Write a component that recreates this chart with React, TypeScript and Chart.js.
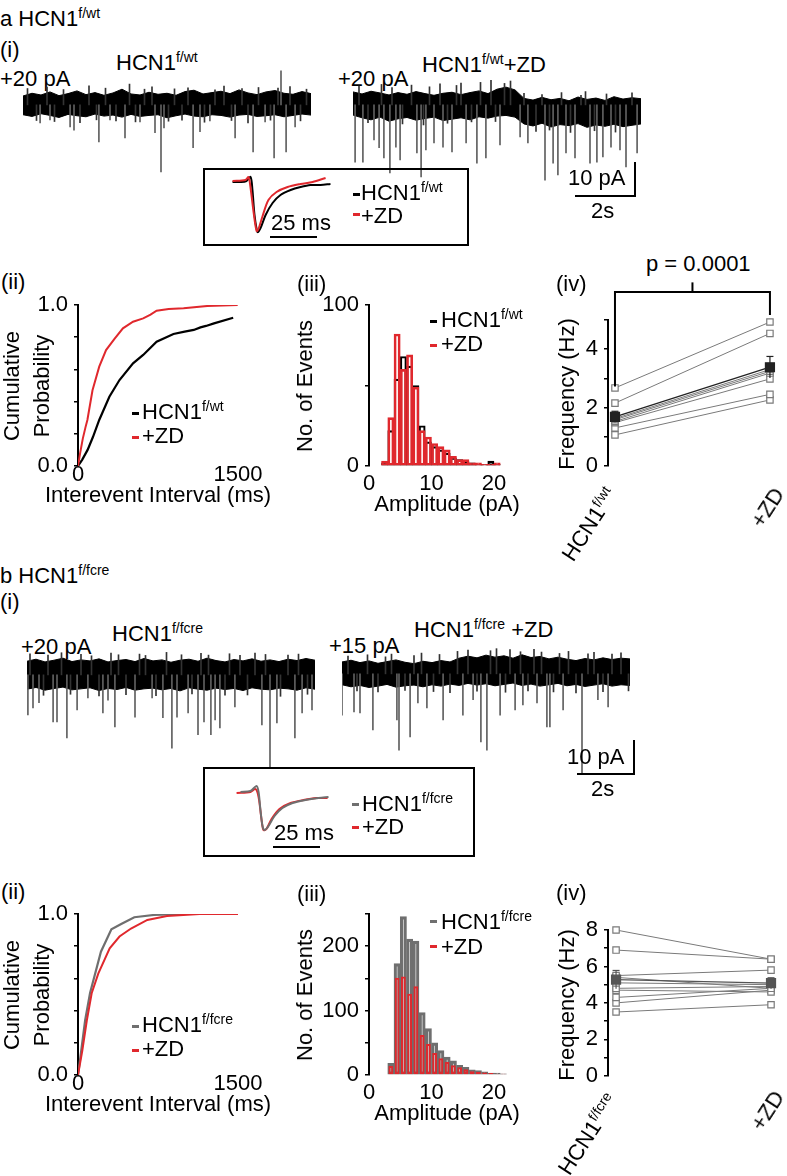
import React, { useEffect, useRef } from "react";
import { Chart, registerables } from "chart.js";
Chart.register(...registerables);

const FONT = "'Liberation Sans', Arial, Helvetica, sans-serif";
Chart.defaults.font.family = FONT;
Chart.defaults.font.size = 22;
Chart.defaults.color = "#000";

const RED = "#e0282d";
const GRAY = "#6f6f6f";
const CELL = "#7a7a7a";

// ---------------- traces (time s, current pA rel. baseline) ----------------
const ENV_T = [0, 0.3, 0.6, 0.9, 1.2, 1.5, 1.8, 2.1, 2.4, 2.7, 3.0, 3.3, 3.6, 3.9, 4.2, 4.5, 4.8, 5.1, 5.4, 5.7, 6.0, 6.3, 6.6, 6.9, 7.2, 7.5, 7.8, 8.1, 8.4, 8.7, 9.0, 9.3, 9.6];
const A1_UP = [2.6, 3.4, 2.9, 3.8, 2.7, 3.3, 4.1, 3.0, 3.6, 2.8, 3.5, 4.6, 3.2, 2.9, 3.7, 3.1, 3.4, 2.8, 3.9, 4.3, 3.2, 3.6, 4.0, 3.3, 4.4, 3.5, 3.0, 3.8, 4.2, 3.4, 3.1, 3.9, 3.3];
const A1_LO = [-2.9, -3.4, -2.6, -3.1, -3.7, -2.8, -3.2, -3.5, -2.7, -3.3, -3.0, -3.6, -2.8, -3.4, -3.1, -2.9, -3.8, -3.2, -2.7, -3.3, -3.5, -2.9, -3.1, -3.6, -3.0, -2.8, -3.4, -3.2, -2.9, -3.5, -3.1, -2.7, -3.0];
const A1_EV_T = [0.57, 0.9, 1.57, 1.7, 2.53, 2.9, 3.4, 3.9, 4.4, 4.6, 4.7, 5.67, 5.9, 6.23, 7.07, 7.67, 8.07, 8.37, 8.6, 8.77, 9.07];
const A1_EV_A = [-5.3, -4.4, -6.5, -7.4, -10.9, -4.4, -9.7, -5.0, -8.2, -19.7, -6.8, -12.6, -7.9, -4.7, -9.7, -13.8, -5.0, -15.6, 10.0, -13.8, -6.5];
const A1_NZ_T = [0.15, 0.45, 0.8, 1.05, 1.35, 1.9, 2.2, 2.45, 2.75, 3.1, 3.55, 3.75, 4.05, 4.3, 4.85, 5.05, 5.3, 5.5, 6.05, 6.4, 6.7, 6.95, 7.3, 7.5, 7.85, 8.25, 8.5, 8.9, 9.25, 9.45];
const A1_NZ_A = [4.8, -4.6, 5.2, -4.9, 4.5, -5.2, 5.6, -4.4, 4.9, -4.7, 6.1, -5.0, 4.6, 5.3, -4.8, 4.7, -4.5, 5.0, -5.1, 4.4, 5.5, -4.6, 4.8, -5.3, 5.1, -4.5, 4.9, 5.4, -4.7, 4.6];

const A2_UP = [3.8, 3.2, 4.0, 3.5, 2.9, 3.6, 3.1, 3.9, 3.3, 2.8, 3.4, 3.7, 3.0, 3.6, 4.1, 3.3, 4.6, 5.2, 4.4, 1.9, 1.4, 2.2, 1.5, 1.9, 1.2, 2.3, 1.6, 2.0, 1.3, 2.4, 1.7, 2.1, 1.8];
const A2_LO = [-3.0, -3.8, -4.4, -3.6, -4.8, -4.1, -3.7, -4.5, -4.0, -3.6, -4.6, -4.2, -3.8, -4.4, -3.5, -3.9, -3.3, -3.1, -3.6, -5.6, -6.2, -5.4, -6.5, -5.8, -6.1, -5.5, -6.6, -5.9, -6.3, -5.7, -6.4, -6.0, -5.6];
const A2_EV_T = [0.07, 0.33, 0.7, 0.87, 1.03, 1.23, 1.43, 1.57, 2.13, 2.27, 2.43, 2.7, 3.0, 3.3, 3.77, 4.13, 4.43, 4.9, 5.57, 5.83, 6.4, 6.67, 6.83, 7.1, 7.4, 7.9, 8.13, 8.33, 8.6, 8.9, 9.1, 9.47];
const A2_EV_A = [-16.8, -16.8, -10.3, -12.6, -15.6, -20.0, -12.4, -16.2, -14.1, -21.2, -13.2, -11.2, -12.4, -13.8, -11.2, -17.1, -15.6, -11.8, -9.4, -11.2, -22.1, -17.1, -20.6, -14.1, -15.6, -17.1, -16.8, -15.3, -12.4, -13.2, -18.2, -14.1];
const A2_NZ_T = [0.2, 0.5, 0.95, 1.3, 1.65, 1.95, 2.35, 2.55, 2.9, 3.15, 3.45, 3.6, 3.95, 4.25, 4.6, 4.75, 5.05, 5.25, 5.7, 6.1, 6.3, 6.55, 6.95, 7.25, 7.6, 7.75, 8.05, 8.45, 8.75, 9.3];
const A2_NZ_A = [5.5, -5.2, 6.0, 5.1, -5.6, 5.8, -5.9, 5.3, 6.2, -5.4, 5.7, 6.4, -5.0, 6.6, 7.2, -4.9, 6.3, 7.0, 3.4, -7.8, 3.0, -7.4, 3.6, -8.1, 2.8, 3.9, -7.6, 3.2, -8.0, 3.5];

const B1_UP = [4.0, 4.6, 3.8, 4.3, 4.9, 3.9, 4.4, 4.1, 4.7, 3.8, 4.2, 4.5, 3.9, 4.8, 4.1, 4.4, 3.7, 4.3, 4.6, 4.0, 4.9, 4.2, 3.8, 4.5, 4.1, 4.7, 4.0, 4.4, 3.9, 4.6, 4.2, 4.8, 4.3];
const B1_LO = [-4.2, -3.7, -4.5, -4.0, -3.6, -4.4, -4.1, -3.8, -4.6, -4.0, -4.3, -3.7, -4.5, -4.1, -3.9, -4.4, -4.0, -4.7, -3.8, -4.2, -4.5, -3.9, -4.3, -4.0, -4.6, -3.8, -4.2, -4.4, -3.9, -4.1, -4.5, -3.8, -4.2];
const B1_EV_T = [0.03, 0.2, 0.4, 0.87, 1.0, 1.33, 1.67, 2.03, 2.53, 2.7, 2.93, 3.6, 4.17, 4.53, 4.83, 5.0, 5.37, 5.7, 5.9, 6.13, 6.27, 6.43, 6.93, 7.83, 8.1, 8.33, 8.93, 9.17, 9.5];
const B1_EV_A = [-11.8, -9.7, -8.2, -13.8, -13.8, -18.5, -10.3, -6.8, -11.2, -7.4, -15.3, -12.4, -6.8, -12.6, -21.5, -12.4, -11.2, -17.6, -13.8, -17.6, -13.2, -15.6, -9.4, -14.7, -27.1, -14.1, -18.5, -11.2, -10.3];
const B1_NZ_T = [0.1, 0.55, 0.7, 1.15, 1.45, 1.8, 2.15, 2.4, 2.8, 3.05, 3.3, 3.75, 3.95, 4.3, 4.65, 5.15, 5.5, 5.8, 6.05, 6.6, 6.75, 7.1, 7.35, 7.6, 7.95, 8.45, 8.7, 9.05, 9.35];
const B1_NZ_A = [6.2, -6.0, 5.8, 6.5, -5.7, 6.0, 5.6, -6.2, 6.4, 5.9, -5.8, 6.1, 5.7, -6.1, 6.6, 5.9, -5.6, 6.3, 5.8, -6.0, 6.2, 5.7, -5.9, 6.4, 6.0, -6.3, 5.8, 6.1, -5.7];

const B2_UP = [3.5, 4.0, 3.3, 3.8, 3.1, 3.6, 4.1, 3.4, 3.0, 3.7, 3.3, 3.9, 3.5, 4.6, 5.2, 4.7, 5.5, 4.9, 5.3, 4.6, 5.6, 4.8, 5.1, 4.4, 4.9, 4.3, 3.9, 4.5, 4.1, 4.7, 4.2, 4.6, 4.4];
const B2_LO = [-3.2, -3.8, -3.4, -4.0, -3.6, -3.1, -3.9, -3.5, -3.3, -3.8, -3.2, -3.6, -3.0, -3.4, -2.8, -3.3, -2.9, -3.5, -3.1, -2.7, -3.4, -3.0, -3.6, -3.2, -2.8, -3.5, -3.1, -3.7, -3.3, -2.9, -3.6, -3.2, -3.4];
const B2_EV_T = [0.0, 0.4, 0.6, 1.03, 1.83, 1.9, 2.27, 2.53, 2.83, 3.37, 4.03, 4.37, 4.63, 4.83, 5.27, 5.77, 6.03, 6.5, 6.83, 6.93, 7.37, 8.0, 8.53, 8.87];
const B2_EV_A = [-12.1, -11.2, -11.5, -16.5, -13.5, -22.4, -18.5, -8.5, -10.0, -13.5, -12.1, -7.6, -20.0, -22.4, -12.1, -10.6, -9.1, -8.5, -15.6, -15.6, -10.6, -29.1, -7.6, -9.7];
const B2_NZ_T = [0.2, 0.5, 0.85, 1.2, 1.45, 1.65, 2.1, 2.4, 2.65, 3.05, 3.25, 3.6, 3.85, 4.2, 4.5, 4.95, 5.15, 5.45, 5.6, 5.95, 6.2, 6.4, 6.65, 7.05, 7.25, 7.55, 7.8, 8.2, 8.4, 8.7, 9.0, 9.3, 9.55];
const B2_NZ_A = [5.2, -5.0, 5.6, -5.3, 5.0, 5.8, -4.9, 5.4, 6.1, -5.2, 5.7, -5.5, 6.6, 7.0, -5.1, 6.8, 7.4, -5.4, 7.1, 6.5, -5.0, 7.2, 6.4, -5.3, 6.0, 6.6, -5.6, 5.9, 6.3, -5.2, 5.8, 6.2, -5.0];

// ---------------- average event insets (ms, a.u.) ----------------
const INA_CTRL_T = [0, 4.3, 7.4, 9.6, 10.6, 11.7, 13.3, 14.9, 17.6, 21.3, 25.5, 30.9, 36.2, 41.5, 46.8, 52.1];
const INA_CTRL_V = [0, 0, 0.2, 1.0, -1.6, -6.6, -10, -9.2, -6.6, -4.2, -2.6, -1.6, -1.0, -0.6, -0.6, -0.4];
const INA_ZD_T = [0, 6.9, 8.5, 9.6, 11.2, 12.8, 13.8, 16.0, 19.1, 23.4, 29.3, 36.2, 42.6, 49.5];
const INA_ZD_V = [0.2, 0.4, 1.0, -1.2, -6.0, -9.8, -9.4, -6.8, -3.6, -2.0, -1.0, -0.4, 0, 0.8];
const INB_CTRL_T = [0, 5.3, 8.5, 9.6, 10.6, 11.7, 12.8, 14.9, 18.1, 22.3, 27.7, 34.6, 41.5, 46.8];
const INB_CTRL_V = [0, 0.2, 1.2, 0, -3.6, -6.8, -7.6, -6.8, -4.8, -3.2, -2.2, -1.6, -1.2, -1.0];
const INB_ZD_T = [-2.1, 5.3, 8.0, 9.6, 11.2, 12.2, 13.8, 16.5, 20.7, 26.6, 33.5, 40.4, 46.3];
const INB_ZD_V = [-0.2, 0, 0.6, -1.0, -5.6, -7.6, -7.4, -5.4, -3.4, -2.2, -1.6, -1.2, -1.2];

// ---------------- cumulative probability (ms, prob) ----------------
const A_CDF_CTRL_X = [0, 40, 90, 140, 199, 294, 389, 516, 611, 737, 895, 1000, 1085, 1148, 1200, 1275, 1455];
const A_CDF_CTRL_Y = [0, 0.04, 0.1, 0.18, 0.286, 0.43, 0.534, 0.638, 0.69, 0.772, 0.82, 0.835, 0.845, 0.861, 0.87, 0.886, 0.921];
const A_CDF_ZD_X = [0, 20, 45, 70, 88, 136, 199, 263, 342, 421, 516, 611, 680, 737, 850, 990, 1212, 1497];
const A_CDF_ZD_Y = [0, 0.08, 0.17, 0.24, 0.286, 0.47, 0.617, 0.72, 0.79, 0.855, 0.896, 0.917, 0.94, 0.965, 0.975, 0.98, 0.994, 1.0];
const B_CDF_CTRL_X = [0, 30, 67, 113, 215, 313, 405, 528, 712, 1019];
const B_CDF_CTRL_Y = [0, 0.15, 0.34, 0.51, 0.766, 0.905, 0.938, 0.98, 0.994, 1.0];
const B_CDF_ZD_X = [0, 40, 83, 129, 190, 297, 389, 497, 650, 834, 1141, 1500];
const B_CDF_ZD_Y = [0, 0.15, 0.34, 0.51, 0.63, 0.787, 0.86, 0.91, 0.963, 0.988, 1.0, 1.0];

// ---------------- amplitude histograms (bin start pA, counts) ----------------
const A_BINS = [2, 3, 4, 5, 6, 7, 8, 9, 10, 11, 12, 13, 14, 15, 16, 17, 18, 19, 20];
const A_HIST_CTRL = [2, 22, 54, 68, 62, 50, 25, 15, 12, 10, 8, 5, 4, 3, 2, 1, 1, 3, 1];
const A_HIST_ZD = [3, 30, 82, 60, 69, 49, 22, 18, 14, 12, 10, 6, 4, 4, 2, 2, 1, 1, 2];
const B_BINS = [3, 4, 5, 6, 7, 8, 9, 10, 11, 12, 13, 14, 15, 16, 17, 18, 19, 20, 21];
const B_HIST_CTRL = [18, 173, 246, 211, 208, 97, 72, 50, 38, 28, 22, 15, 12, 8, 7, 5, 3, 3, 2];
const B_HIST_ZD = [14, 151, 153, 126, 138, 62, 48, 34, 26, 20, 15, 12, 9, 6, 5, 4, 3, 2, 2];

// ---------------- frequency per cell (Hz) ----------------
const IVA_CTRL = [2.67, 2.15, 1.62, 1.58, 1.52, 1.48, 1.3, 1.06];
const IVA_ZD = [4.93, 4.54, 3.3, 3.24, 3.18, 2.98, 2.45, 2.26];
const IVA_MEAN = [1.68, 3.38];
const IVA_SEM = [0.19, 0.37];
const IVA_BRACKET_Y = [2.72, 5.96, 5.96, 5.17];
const IVA_P_TICK = [5.96, 6.29];
const IVB_CTRL = [8.0, 6.9, 5.5, 5.4, 5.1, 4.8, 4.7, 4.3, 4.0, 3.5];
const IVB_ZD = [6.4, 6.4, 5.8, 4.8, 5.0, 4.9, 4.6, 4.8, 4.7, 3.9];
const IVB_MEAN = [5.28, 5.08];
const IVB_SEM = [0.5, 0.3];

// ---------------- helpers ----------------
const pts = (xs: number[], ys: number[]) => xs.map((x, i) => ({ x, y: ys[i] }));

function base(scales: any, padding: any) {
  return {
    animation: false,
    responsive: false,
    maintainAspectRatio: false,
    events: [],
    layout: { padding },
    plugins: { legend: { display: false }, tooltip: { enabled: false }, title: { display: false } },
    scales,
  };
}

function yAxis(min: number, max: number, vals: number[], labels: string[], width: number) {
  return {
    type: "linear",
    min,
    max,
    position: "left",
    afterBuildTicks: (s: any) => {
      s.ticks = vals.map((v) => ({ value: v }));
    },
    afterFit: (s: any) => {
      s.width = width;
    },
    grid: { drawOnChartArea: false, drawTicks: true, tickLength: 4, color: "#000", lineWidth: 1.5 },
    border: { display: true, color: "#000", width: 2 },
    ticks: { autoSkip: false, padding: 6, color: "#000", font: { size: 22, family: FONT }, callback: (_v: any, i: number) => labels[i] },
    title: { display: false },
  };
}

function xAxis(min: number, max: number, vals: number[], labels: string[], height: number, pad: number) {
  return {
    type: "linear",
    min,
    max,
    position: "bottom",
    afterBuildTicks: (s: any) => {
      s.ticks = vals.map((v) => ({ value: v }));
    },
    afterFit: (s: any) => {
      s.height = height;
    },
    grid: { display: false, drawTicks: false },
    border: { display: false },
    ticks: { autoSkip: false, maxRotation: 0, minRotation: 0, padding: pad, color: "#000", font: { size: 22, family: FONT }, callback: (_v: any, i: number) => labels[i] },
    title: { display: false },
  };
}

function traceCfg(up: number[], lo: number[], evT: number[], evA: number[], nzT: number[], nzA: number[]) {
  return () => ({
    type: "bar",
    data: {
      datasets: [
        { type: "line", data: pts(ENV_T, up), borderColor: "#000", borderWidth: 1, backgroundColor: "#000", fill: "+1", pointRadius: 0, tension: 0, order: 3 },
        { type: "line", data: pts(ENV_T, lo), borderColor: "#000", borderWidth: 1, fill: false, pointRadius: 0, tension: 0, order: 3 },
        { type: "bar", data: nzT.map((t, i) => ({ x: t, y: [0, nzA[i]] })), backgroundColor: "#333", barThickness: 1, grouped: false, order: 2 },
        { type: "bar", data: evT.map((t, i) => ({ x: t, y: [0, evA[i]] })), backgroundColor: "#606060", barThickness: 1, grouped: false, order: 1 },
      ],
    },
    options: base(
      {
        x: { type: "linear", min: 0, max: 10, display: false, offset: false },
        y: { type: "linear", min: -30, max: 12, display: false },
      },
      0
    ),
  });
}

function insetCfg(t1: number[], v1: number[], c1: string, t2: number[], v2: number[], c2: string, o1: number, o2: number) {
  return () => ({
    type: "line",
    data: {
      datasets: [
        { data: pts(t1, v1), borderColor: c1, borderWidth: 2, pointRadius: 0, tension: 0.3, order: o1 },
        { data: pts(t2, v2), borderColor: c2, borderWidth: 2, pointRadius: 0, tension: 0.3, order: o2 },
      ],
    },
    options: base(
      {
        x: { type: "linear", min: -4, max: 56.1, display: false },
        y: { type: "linear", min: -12, max: 2, display: false },
      },
      0
    ),
  });
}

function cdfCfg(cx: number[], cy: number[], cc: string, zx: number[], zy: number[]) {
  return () => ({
    type: "line",
    data: {
      datasets: [
        { data: pts(cx, cy), borderColor: cc, borderWidth: 2.2, pointRadius: 0, tension: 0, order: 1 },
        { data: pts(zx, zy), borderColor: RED, borderWidth: 2, pointRadius: 0, tension: 0, order: 0 },
      ],
    },
    options: base(
      {
        x: xAxis(0, 1500, [0, 1500], ["0", "1500"], 40, -4),
        y: yAxis(0, 1, [0, 0.2, 0.4, 0.6, 0.8, 1], ["0.0", "", "", "", "", "1.0"], 78),
      },
      { left: 0, top: 25, right: 42, bottom: 0 }
    ),
  });
}

function histCfg(bins: number[], ctrl: number[], cc: string, cw: number, zd: number[], zw: number, zp: number, yMax: number, yVals: number[], yLabels: string[]) {
  return () => ({
    type: "bar",
    data: {
      datasets: [
        {
          data: bins.map((b, i) => ({ x: b + 0.5, y: ctrl[i] })),
          borderColor: cc,
          borderWidth: cw,
          backgroundColor: "rgba(0,0,0,0)",
          borderSkipped: false,
          grouped: false,
          barPercentage: 1,
          categoryPercentage: 1,
          order: 1,
        },
        {
          data: bins.map((b, i) => ({ x: b + 0.5, y: zd[i] })),
          borderColor: RED,
          borderWidth: zw,
          backgroundColor: "rgba(0,0,0,0)",
          borderSkipped: false,
          grouped: false,
          barPercentage: zp,
          categoryPercentage: 1,
          order: 0,
        },
      ],
    },
    options: base(
      {
        x: { ...xAxis(0, 25, [0, 10, 20], ["0", "10", "20"], 40, 5), offset: false },
        y: yAxis(0, yMax, yVals, yLabels, 79),
      },
      { left: 0, top: 25, right: 14.75, bottom: 0 }
    ),
  });
}

function freqCfg(ctrl: number[], zd: number[], mean: number[], sem: number[], meanColor: string, yMax: number, yVals: number[], yLabels: string[], xMin: number, xMax: number, padBottom: number, padRight: number, bracket: boolean) {
  return () => {
    const ds: any[] = ctrl.map((v, i) => ({
      data: [
        { x: 0, y: v },
        { x: 1, y: zd[i] },
      ],
      borderColor: CELL,
      borderWidth: 1,
      pointStyle: "rect",
      pointRadius: 4.5,
      pointBackgroundColor: "#fff",
      pointBorderColor: CELL,
      pointBorderWidth: 1.2,
      clip: false,
      order: 3,
    }));
    ds.push({
      data: [
        { x: 0, y: mean[0] },
        { x: 1, y: mean[1] },
      ],
      borderColor: meanColor,
      borderWidth: 1.3,
      pointStyle: "rect",
      pointRadius: 6.3,
      pointBackgroundColor: meanColor,
      pointBorderColor: meanColor,
      clip: false,
      order: 0,
    });
    [0, 1].forEach((k) => {
      ds.push({
        data: [
          { x: k, y: mean[k] - sem[k] },
          { x: k, y: mean[k] + sem[k] },
        ],
        borderColor: meanColor,
        borderWidth: 1.2,
        pointStyle: "line",
        pointRadius: [0, 3.5],
        pointBorderColor: meanColor,
        pointBorderWidth: 1.2,
        clip: false,
        order: 1,
      });
    });
    if (bracket) {
      ds.push({
        data: [
          { x: 0, y: IVA_BRACKET_Y[0] },
          { x: 0, y: IVA_BRACKET_Y[1] },
          { x: 1, y: IVA_BRACKET_Y[2] },
          { x: 1, y: IVA_BRACKET_Y[3] },
        ],
        borderColor: "#000",
        borderWidth: 2,
        pointRadius: 0,
        clip: false,
        order: 0,
      });
      ds.push({
        data: [
          { x: 0.5, y: IVA_P_TICK[0] },
          { x: 0.5, y: IVA_P_TICK[1] },
        ],
        borderColor: "#000",
        borderWidth: 2,
        pointRadius: 0,
        clip: false,
        order: 0,
      });
    }
    return {
      type: "line",
      data: { datasets: ds },
      options: base(
        {
          x: { type: "linear", min: xMin, max: xMax, display: false },
          y: yAxis(0, yMax, yVals, yLabels, 68),
        },
        { left: 0, top: 80, right: padRight, bottom: padBottom }
      ),
    };
  };
}

// ---------------- components ----------------
function ChartBox({ x, y, w, h, cfg }: any) {
  const ref = useRef<HTMLCanvasElement>(null);
  useEffect(() => {
    const c = new Chart(ref.current as HTMLCanvasElement, cfg() as any);
    return () => c.destroy();
  }, []);
  return <canvas ref={ref} width={w} height={h} style={{ position: "absolute", left: x, top: y, width: w, height: h }} />;
}

function T({ x, b, s = 22, children }: any) {
  return (
    <div style={{ position: "absolute", left: x, top: b - 0.8465 * s, fontSize: s, lineHeight: `${s}px`, whiteSpace: "nowrap", color: "#000" }}>
      {children}
    </div>
  );
}

function C({ cx, cy, rot = 0, children }: any) {
  return (
    <div
      style={{
        position: "absolute",
        left: cx,
        top: cy,
        fontSize: 22,
        lineHeight: "22px",
        whiteSpace: "nowrap",
        transform: `translate(-50%,-50%) rotate(${rot}deg)`,
      }}
    >
      {children}
    </div>
  );
}

function Sup({ children }: any) {
  return <span style={{ fontSize: 14, position: "relative", top: -8 }}>{children}</span>;
}

function Dash({ x, y, c }: any) {
  return <div style={{ position: "absolute", left: x, top: y - 1.5, width: 7, height: 3.5, background: c }} />;
}

function Rect({ x, y, w, h }: any) {
  return <div style={{ position: "absolute", left: x, top: y, width: w, height: h, background: "#000" }} />;
}

function Box({ x, y, w, h }: any) {
  return <div style={{ position: "absolute", left: x, top: y, width: w, height: h, border: "2px solid #000", boxSizing: "border-box" }} />;
}

function Rot({ x, y, children }: any) {
  return (
    <div style={{ position: "absolute", left: x, top: y, width: 0, height: 0 }}>
      <div style={{ position: "absolute", right: 0, top: -13, fontSize: 22, lineHeight: "26px", whiteSpace: "nowrap", transformOrigin: "100% 50%", transform: "rotate(-57deg)" }}>
        {children}
      </div>
    </div>
  );
}

export default function App() {
  return (
    <div style={{ position: "absolute", left: 0, top: 0, width: 787, height: 1176, background: "#fff", overflow: "hidden", fontFamily: FONT, color: "#000" }}>
      {/* ===== a ===== */}
      <T x={0} b={27}>
        a HCN1<Sup>f/wt</Sup>
      </T>
      <T x={0} b={58}>(i)</T>
      <T x={116} b={71}>
        HCN1<Sup>f/wt</Sup>
      </T>
      <T x={0} b={87}>+20 pA</T>
      <T x={338} b={87}>+20 pA</T>
      <T x={422} b={73}>
        HCN1<Sup>f/wt</Sup>+ZD
      </T>
      <ChartBox x={23} y={64.2} w={300} h={143} cfg={traceCfg(A1_UP, A1_LO, A1_EV_T, A1_EV_A, A1_NZ_T, A1_NZ_A)} />
      <ChartBox x={353} y={64.2} w={300} h={143} cfg={traceCfg(A2_UP, A2_LO, A2_EV_T, A2_EV_A, A2_NZ_T, A2_NZ_A)} />
      <T x={568} b={186}>10 pA</T>
      <T x={591} b={219}>2s</T>
      <Rect x={634} y={162} w={2} h={35} />
      <Rect x={575} y={195} w={61} h={2} />

      <Box x={203} y={168} w={266} h={78} />
      <ChartBox x={224.5} y={172} w={113} h={70} cfg={insetCfg(INA_CTRL_T, INA_CTRL_V, "#000", INA_ZD_T, INA_ZD_V, RED, 1, 0)} />
      <Dash x={353} y={194} c="#000" />
      <T x={361} b={201}>
        HCN1<Sup>f/wt</Sup>
      </T>
      <Dash x={353} y={214} c={RED} />
      <T x={361} b={224}>+ZD</T>
      <T x={271} b={231}>25 ms</T>
      <Rect x={270} y={236} w={47} h={2} />

      <T x={1} b={290}>(ii)</T>
      <ChartBox x={0} y={280} w={280} h={226} cfg={cdfCfg(A_CDF_CTRL_X, A_CDF_CTRL_Y, "#000", A_CDF_ZD_X, A_CDF_ZD_Y)} />
      <C cx={12.4} cy={385.5} rot={-90}>Cumulative</C>
      <C cx={42.4} cy={385.5} rot={-90}>Probability</C>
      <C cx={158} cy={495}>Interevent Interval (ms)</C>
      <Dash x={132} y={413} c="#000" />
      <T x={142} b={420}>
        HCN1<Sup>f/wt</Sup>
      </T>
      <Dash x={132} y={437} c={RED} />
      <T x={142} b={444}>+ZD</T>

      <T x={297} b={292}>(iii)</T>
      <ChartBox x={290} y={280} w={250} h={226} cfg={histCfg(A_BINS, A_HIST_CTRL, "#000", 1.5, A_HIST_ZD, 2, 1, 100, [0, 50, 100], ["0", "", "100"])} />
      <C cx={304.5} cy={385.5} rot={-90}>No. of Events</C>
      <C cx={447} cy={504}>Amplitude (pA)</C>
      <Dash x={430} y={321} c="#000" />
      <T x={441} b={328}>
        HCN1<Sup>f/wt</Sup>
      </T>
      <Dash x={430} y={345} c={RED} />
      <T x={441} b={352}>+ZD</T>

      <T x={556} b={292}>(iv)</T>
      <T x={646} b={272}>p = 0.0001</T>
      <ChartBox
        x={540}
        y={240}
        w={247}
        h={245}
        cfg={freqCfg(IVA_CTRL, IVA_ZD, IVA_MEAN, IVA_SEM, "#222", 5, [0, 1, 2, 3, 4, 5], ["0", "", "2", "", "4", ""], -0.045, 1.052, 16.7, 9, true)}
      />
      <C cx={566.5} cy={394} rot={-90}>Frequency (Hz)</C>
      <Rot x={613} y={490}>
        HCN1<Sup>f/wt</Sup>
      </Rot>
      <Rot x={779} y={490}>+ZD</Rot>

      {/* ===== b ===== */}
      <T x={0} b={584}>
        b HCN1<Sup>f/fcre</Sup>
      </T>
      <T x={0} b={610}>(i)</T>
      <T x={112} b={642}>
        HCN1<Sup>f/fcre</Sup>
      </T>
      <T x={21} b={655}>+20 pA</T>
      <T x={329} b={654}>+15 pA</T>
      <T x={414} b={638}>
        HCN1<Sup>f/fcre</Sup> +ZD
      </T>
      <ChartBox x={27} y={634.2} w={300} h={143} cfg={traceCfg(B1_UP, B1_LO, B1_EV_T, B1_EV_A, B1_NZ_T, B1_NZ_A)} />
      <ChartBox x={342} y={633.2} w={300} h={143} cfg={traceCfg(B2_UP, B2_LO, B2_EV_T, B2_EV_A, B2_NZ_T, B2_NZ_A)} />
      <T x={567} b={765}>10 pA</T>
      <T x={591} b={797}>2s</T>
      <Rect x={633} y={740} w={2} h={35} />
      <Rect x={577} y={773} w={58} h={2} />

      <Box x={203} y={767} w={272} h={90} />
      <ChartBox x={232.5} y={782} w={113} h={70} cfg={insetCfg(INB_ZD_T, INB_ZD_V, RED, INB_CTRL_T, INB_CTRL_V, GRAY, 1, 0)} />
      <Dash x={352} y={804} c={GRAY} />
      <T x={362} b={812}>
        HCN1<Sup>f/fcre</Sup>
      </T>
      <Dash x={352} y={827} c={RED} />
      <T x={362} b={835}>+ZD</T>
      <T x={274} b={841}>25 ms</T>
      <Rect x={273} y={846} w={47} h={2} />

      <T x={1} b={900}>(ii)</T>
      <ChartBox x={0} y={889} w={280} h={226} cfg={cdfCfg(B_CDF_CTRL_X, B_CDF_CTRL_Y, GRAY, B_CDF_ZD_X, B_CDF_ZD_Y)} />
      <C cx={12.4} cy={994.5} rot={-90}>Cumulative</C>
      <C cx={42.4} cy={994.5} rot={-90}>Probability</C>
      <C cx={158} cy={1104}>Interevent Interval (ms)</C>
      <Dash x={132} y={1026} c={GRAY} />
      <T x={142} b={1033}>
        HCN1<Sup>f/fcre</Sup>
      </T>
      <Dash x={132} y={1050} c={RED} />
      <T x={142} b={1057}>+ZD</T>

      <T x={297} b={902}>(iii)</T>
      <ChartBox
        x={290}
        y={889}
        w={250}
        h={226}
        cfg={histCfg(B_BINS, B_HIST_CTRL, GRAY, 2.5, B_HIST_ZD, 2, 0.78, 250, [0, 50, 100, 150, 200, 250], ["0", "", "100", "", "200", ""])}
      />
      <C cx={304.5} cy={994.5} rot={-90}>No. of Events</C>
      <C cx={447} cy={1113}>Amplitude (pA)</C>
      <Dash x={430} y={921} c={GRAY} />
      <T x={441} b={930}>
        HCN1<Sup>f/fcre</Sup>
      </T>
      <Dash x={430} y={946} c={RED} />
      <T x={441} b={955}>+ZD</T>

      <T x={556} b={901}>(iv)</T>
      <ChartBox
        x={540}
        y={850}
        w={247}
        h={245}
        cfg={freqCfg(IVB_CTRL, IVB_ZD, IVB_MEAN, IVB_SEM, "#555", 8, [0, 1, 2, 3, 4, 5, 6, 7, 8], ["0", "", "2", "", "4", "", "6", "", "8"], -0.052, 1.045, 16, 9, false)}
      />
      <C cx={566.5} cy={1004.5} rot={-90}>Frequency (Hz)</C>
      <Rot x={614} y={1096}>
        HCN1<Sup>f/fcre</Sup>
      </Rot>
      <Rot x={779} y={1093}>+ZD</Rot>
    </div>
  );
}
